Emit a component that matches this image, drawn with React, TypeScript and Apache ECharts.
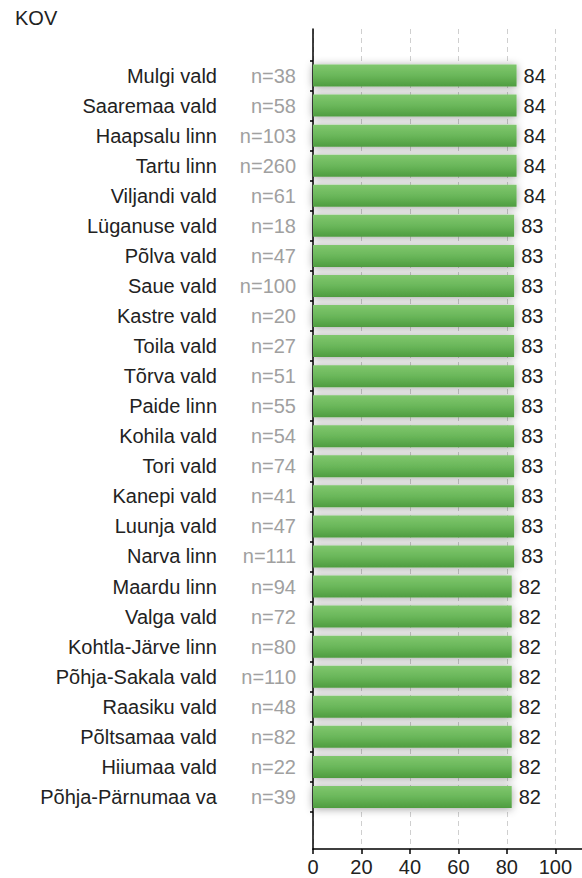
import React, { useEffect, useRef } from "react";
import * as echarts from "echarts";

const categories = [
  "Mulgi vald", "Saaremaa vald", "Haapsalu linn", "Tartu linn", "Viljandi vald",
  "Lüganuse vald", "Põlva vald", "Saue vald", "Kastre vald", "Toila vald",
  "Tõrva vald", "Paide linn", "Kohila vald", "Tori vald", "Kanepi vald",
  "Luunja vald", "Narva linn", "Maardu linn", "Valga vald", "Kohtla-Järve linn",
  "Põhja-Sakala vald", "Raasiku vald", "Põltsamaa vald", "Hiiumaa vald", "Põhja-Pärnumaa va",
];
const counts = [38, 58, 103, 260, 61, 18, 47, 100, 20, 27, 51, 55, 54, 74, 41, 47, 111, 94, 72, 80, 110, 48, 82, 22, 39];
const values = [84, 84, 84, 84, 84, 83, 83, 83, 83, 83, 83, 83, 83, 83, 83, 83, 83, 82, 82, 82, 82, 82, 82, 82, 82];
const xTicks = [0, 20, 40, 60, 80, 100];

const FONT = "'Liberation Sans', Arial, sans-serif";

export default function App() {
  const ref = useRef<HTMLDivElement>(null);
  useEffect(() => {
    if (!ref.current) return;
    const chart = echarts.init(ref.current, undefined, { renderer: "svg" });
    const left = 313;
    const bandTop = 60.5;
    const band = 30.06;
    const option: any = {
      animation: false,
      title: {
        text: "KOV",
        left: 10,
        top: 3,
        textStyle: { fontFamily: FONT, fontSize: 20, fontWeight: "normal", color: "#222" },
      },
      grid: [
        { left, right: 0, top: 29, height: 820 },
        { left, right: 0, top: bandTop, height: band * categories.length },
      ],
      xAxis: [
        {
          gridIndex: 0,
          type: "value",
          min: 0,
          max: 111,
          interval: 20,
          axisLine: { show: true, lineStyle: { color: "#000", width: 1.5 } },
          axisTick: { show: true, length: 5, lineStyle: { color: "#000", width: 1.5 } },
          axisLabel: {
            margin: 8,
            showMaxLabel: false,
            fontFamily: FONT,
            fontSize: 20,
            color: "#222",
            formatter: (v: number) => (xTicks.includes(v) ? String(v) : ""),
          },
          splitLine: { show: true, lineStyle: { color: "#cfcfcf", type: [5, 4], width: 1 } },
        },
        {
          gridIndex: 1,
          type: "value",
          min: 0,
          max: 111,
          show: false,
          splitLine: { show: false },
        },
      ],
      yAxis: [
        {
          gridIndex: 0,
          type: "value",
          min: 0,
          max: 1,
          axisLine: { show: true, onZero: false, lineStyle: { color: "#000", width: 1.5 } },
          axisTick: { show: false },
          axisLabel: { show: false },
          splitLine: { show: false },
        },
        {
          gridIndex: 1,
          type: "category",
          inverse: true,
          data: categories,
          axisLine: { show: false },
          axisTick: { show: true, length: 3, lineStyle: { color: "#000", width: 1.5 } },
          axisLabel: {
            margin: 17,
            fontFamily: FONT,
            fontSize: 20,
            formatter: (v: string, i: number) => `{a|${v}}{b|n=${counts[i]}}`,
            rich: {
              a: { fontFamily: FONT, fontSize: 20, color: "#222" },
              b: { fontFamily: FONT, fontSize: 20, color: "#a0a0a0", width: 79, align: "right" },
            },
          },
          splitLine: { show: false },
        },
      ],
      series: [
        {
          type: "bar",
          xAxisIndex: 1,
          yAxisIndex: 1,
          data: values,
          barWidth: 22,
          itemStyle: {
            color: new echarts.graphic.LinearGradient(0, 0, 0, 1, [
              { offset: 0, color: "#80c76e" },
              { offset: 0.5, color: "#6ab75a" },
              { offset: 1, color: "#4e9c3f" },
            ]),
            shadowColor: "rgba(0,0,0,0.38)",
            shadowBlur: 8,
            shadowOffsetX: 0,
            shadowOffsetY: 1,
          },
          label: {
            show: true,
            position: "right",
            distance: 7,
            fontFamily: FONT,
            fontSize: 20,
            color: "#222",
          },
        },
      ],
    };
    chart.setOption(option);
    return () => chart.dispose();
  }, []);
  return (
    <div
      ref={ref}
      style={{ position: "fixed", left: 0, top: 0, width: 582, height: 878, background: "#fff" }}
    />
  );
}
